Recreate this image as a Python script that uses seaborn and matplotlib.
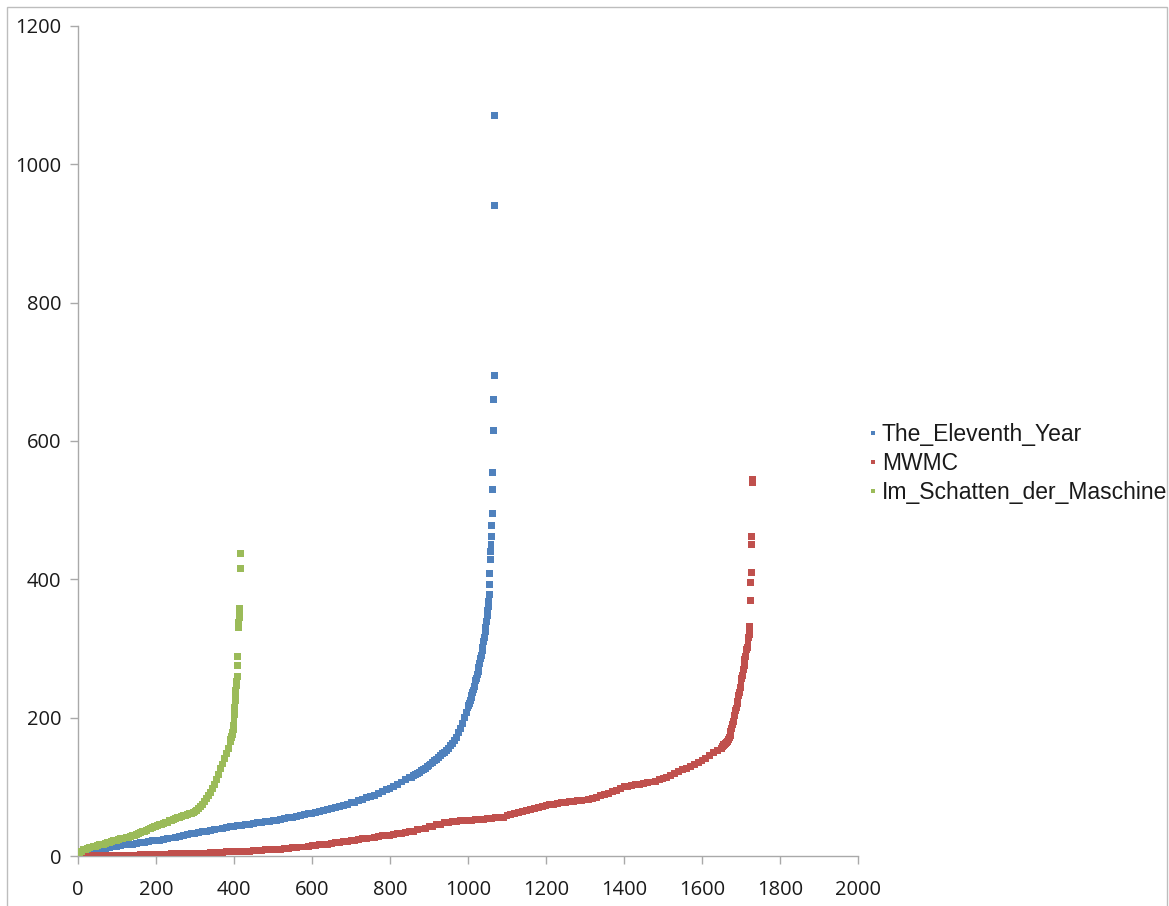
import numpy as np
import pandas as pd
import matplotlib
matplotlib.use("Agg")
import matplotlib.pyplot as plt
from matplotlib.lines import Line2D
from matplotlib.patches import Rectangle
import seaborn as sns

# ---- data: values sorted in ascending order, plotted against their rank ----
series_names = ["The_Eleventh_Year", "MWMC", "Im_Schatten_der_Maschine"]
series_colors = ["#4F81BD", "#C0504D", "#9BBB59"]

eleventh_rank = np.r_[np.arange(0, 850, 10), np.arange(850, 1001, 5),
                      np.arange(1002, 1051, 2), np.arange(1051, 1070)]
eleventh_value = [
    1, 3, 5, 6, 8, 9, 10, 11, 12, 13,
    14, 15, 16, 17, 17, 18, 19, 20, 21, 22,
    22, 23, 24, 25, 26, 27, 28, 30, 31, 32,
    33, 34, 35, 36, 37, 38, 39, 40, 41, 42,
    43, 44, 44, 45, 46, 47, 48, 49, 50, 50,
    51, 52, 53, 54, 55, 56, 57, 58, 60, 61,
    62, 63, 64, 66, 67, 69, 70, 72, 73, 75,
    77, 78, 80, 82, 84, 86, 88, 90, 93, 96,
    98, 101, 104, 107, 110,
    113, 114, 116, 118, 119, 121, 123, 125, 127, 129,
    131, 133, 135, 138, 140, 142, 145, 148, 150, 153,
    156, 160, 163, 167, 172, 178, 185, 192, 200, 207,
    215,
    218, 220, 225, 229, 232, 237, 240, 245, 248, 254,
    257, 263, 267, 273, 278, 285, 290, 297, 302, 310,
    316, 324, 330, 339, 347,
    355, 360, 368, 378, 392, 408, 428, 440, 450, 462,
    478, 495, 530, 555, 615, 660, 695, 940, 1070,
]

mwmc_rank = np.r_[np.arange(0, 1651, 10), np.arange(1652, 1721, 2), np.arange(1721, 1731)]
mwmc_value = [
    0, 0, 0, 0, 1, 1, 1, 1, 1, 1,
    1, 1, 1, 1, 1, 1, 2, 2, 2, 2,
    2, 2, 2, 2, 3, 3, 3, 3, 3, 4,
    4, 4, 4, 4, 5, 5, 5, 5, 6, 6,
    6, 6, 7, 7, 7, 8, 8, 8, 9, 9,
    9, 10, 10, 11, 11, 12, 12, 13, 13, 14,
    15, 15, 16, 17, 17, 18, 19, 20, 21, 21,
    22, 23, 24, 25, 25, 26, 27, 28, 29, 30,
    30, 31, 32, 33, 34, 35, 36, 38, 39, 40,
    42, 43, 45, 46, 48, 49, 50, 50, 51, 51,
    52, 52, 53, 53, 53, 54, 54, 55, 55, 56,
    58, 60, 61, 63, 64, 66, 67, 68, 70, 71,
    73, 74, 75, 76, 77, 78, 79, 79, 80, 80,
    81, 82, 83, 85, 87, 89, 91, 93, 95, 97,
    100, 101, 102, 103, 104, 105, 106, 107, 108, 110,
    112, 114, 117, 119, 122, 125, 127, 129, 132, 135,
    138, 141, 145, 149, 153, 156,
    158, 159, 161, 161, 162, 164, 164, 166, 168, 171,
    174, 180, 184, 190, 194, 200, 203, 210, 214, 220,
    224, 232, 236, 244, 248, 256, 261, 270, 275, 284,
    289, 298, 302, 310, 316,
    320, 326, 332, 370, 395, 410, 450, 462, 540, 545,
]

schatten_rank = np.r_[np.arange(0, 391, 5), np.arange(391, 398), np.arange(398, 418)]
schatten_value = [
    1, 5, 7, 9, 10, 11, 12, 13, 14, 14,
    15, 16, 17, 17, 18, 19, 20, 21, 22, 22,
    23, 24, 25, 25, 26, 27, 27, 28, 29, 30,
    31, 32, 34, 35, 36, 37, 39, 40, 41, 42,
    43, 44, 45, 46, 47, 48, 49, 51, 52, 53,
    54, 55, 56, 57, 58, 59, 60, 61, 62, 63,
    64, 66, 69, 72, 75, 79, 83, 87, 92, 97,
    104, 111, 118, 126, 133, 141, 148, 156, 165,
    167, 169, 171, 173, 175, 177, 179,
    183, 188, 195, 205, 215, 225, 232, 240, 246, 253,
    260, 275, 288, 331, 338, 345, 352, 358, 415, 438,
]

x_ticks = [0, 200, 400, 600, 800, 1000, 1200, 1400, 1600, 1800, 2000]
y_ticks = [0, 200, 400, 600, 800, 1000, 1200]

# ---- long-form table for seaborn ----
df = pd.concat([
    pd.DataFrame({"rank": eleventh_rank, "value": eleventh_value, "series": series_names[0]}),
    pd.DataFrame({"rank": mwmc_rank, "value": mwmc_value, "series": series_names[1]}),
    pd.DataFrame({"rank": schatten_rank, "value": schatten_value, "series": series_names[2]}),
], ignore_index=True)
palette = dict(zip(series_names, series_colors))

sns.set_theme(style="white")
plt.rcParams["font.family"] = ["Open Sans", "DejaVu Sans"]

W, H = 1169, 906
fig = plt.figure(figsize=(W / 100, H / 100), dpi=100)
ax = fig.add_axes([78 / W, 1 - 856 / H, 780 / W, 830 / H])

sns.scatterplot(data=df, x="rank", y="value", hue="series", hue_order=series_names,
                palette=palette, marker="s", s=25, linewidth=0, ax=ax, legend=False,
                zorder=3)

axis_grey = "#A9A9A9"
ax.set_xlim(0, 2000)
ax.set_ylim(0, 1200)
ax.set_xticks(x_ticks)
ax.set_yticks(y_ticks)
ax.set_xticklabels([str(t) for t in x_ticks])
ax.set_yticklabels([str(t) for t in y_ticks])
ax.set_xlabel("")
ax.set_ylabel("")
for side in ("top", "right"):
    ax.spines[side].set_visible(False)
for side in ("left", "bottom"):
    ax.spines[side].set_color(axis_grey)
    ax.spines[side].set_linewidth(1.0)
ax.tick_params(axis="both", which="major", direction="out", length=6, width=1,
               color=axis_grey, labelsize=14.5, labelcolor="#1a1a1a")
ax.tick_params(axis="y", pad=6)
ax.tick_params(axis="x", pad=11)
ax.tick_params(left=True, bottom=True)
ax.grid(False)

# legend to the right of the plot area
handles = [Line2D([0], [0], marker="s", linestyle="none", markersize=3.5,
                  markerfacecolor=c, markeredgewidth=0) for c in series_colors]
fig.legend(handles, series_names, loc="upper left", bbox_to_anchor=(868 / W, 1 - 423 / H),
           frameon=False, prop={"family": ["Liberation Sans", "DejaVu Sans"], "size": 16.5},
           handlelength=0.4, handletextpad=0.2, labelspacing=0.27, borderpad=0,
           borderaxespad=0, labelcolor="#1a1a1a")

# thin outer frame around the chart
fig.patches.append(Rectangle((7 / W, -0.05), (1160 / W), (1 - 7 / H) + 0.05,
                             transform=fig.transFigure, fill=False,
                             edgecolor="#BDBDBD", linewidth=1.0))

fig.savefig("out.png", dpi=100, facecolor="white")
